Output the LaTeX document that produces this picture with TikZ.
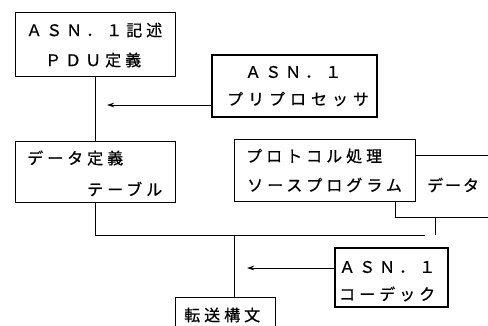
\documentclass[tikz,border=0pt]{standalone}
\usepackage{fontspec}
\setmainfont{Noto Sans CJK JP}
\usetikzlibrary{arrows.meta}
\newcommand\jtxt[1]{\fontsize{16}{16}\selectfont\addfontfeature{FakeBold=0.7,LetterSpace=#1}}
\begin{document}
\begin{tikzpicture}[x=1pt,y=-1pt,
  box/.style={draw,line width=0.9pt,minimum width=#1},
  boxh/.style={minimum height=#1,inner sep=0pt},
  tbox/.style={draw,line width=2.8pt,inner sep=0pt},
  txt/.style={anchor=west,inner sep=0pt,font=\jtxt{25}},
  conn/.style={line width=0.9pt},
  arr/.style={line width=0.9pt,-{Stealth[length=7pt,width=4.5pt]}}]
\useasboundingbox (0,0) rectangle (488,325);
% boxes
\node[box=160pt,boxh=64pt] (pdu) at (95,44) {};
\node[tbox,minimum width=165pt,minimum height=62pt] (pre) at (294.5,86) {};
\node[box=160pt,boxh=61pt] (data) at (95,171.5) {};
\node[box=181pt,boxh=62pt] (proto) at (324.5,170) {};
\node[tbox,minimum width=113pt,minimum height=59pt] (codec) at (391.5,277.5) {};
\node[box=100pt,boxh=50pt] (trans) at (225,322) {};
% texts
\node[txt] (t1) at (26,30) {ＡＳＮ．１記述};
\node[txt] (t2) at (45,60) {ＰＤＵ定義};
\node[txt] (t3) at (245,72) {ＡＳＮ．１};
\node[txt,font=\jtxt{31}] (t4) at (227,99) {プリプロセッサ};
\node[txt] (t5) at (27,158) {データ定義};
\node[txt] (t6) at (87,189) {テーブル};
\node[txt] (t7) at (246,156) {プロトコル処理};
\node[txt] (t8) at (247,185) {ソースプログラム};
\node[txt,font=\jtxt{12}] (t9) at (427,185) {データ};
\node[txt] (t10) at (339,267) {ＡＳＮ．１};
\node[txt] (t11) at (339,294) {コーデック};
\node[txt] (t12) at (184,315) {転送構文};
% connectors
\coordinate (a1) at (107,105);
\coordinate (a2) at (247,268);
\coordinate (mL) at (95,235);
\coordinate (mR) at (425,235);
\coordinate (mj) at (234,235);
\coordinate (e1) at (488,155);
\coordinate (e2) at (488,217);
\coordinate (pb) at (395,0);
\coordinate (k1) at (435,217);
\coordinate (k2) at (435,235);
\draw[conn] (pdu.south) -- (data.north);
\draw[arr] (pre.west |- a1) -- (a1);
\draw[conn] (data.south) |- (mR);
\draw[conn] (mj) -- (mj |- trans.north);
\draw[arr] (codec.west |- a2) -- (a2);
\draw[conn] (proto.east |- e1) -- (e1);
\draw[conn] (pb |- proto.south) |- (e2);
\draw[conn] (k1) -- (k2);
\end{tikzpicture}
\end{document}
